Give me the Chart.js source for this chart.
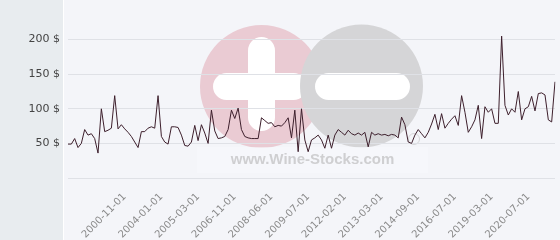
<!DOCTYPE html>
<html>
<head>
<meta charset="utf-8">
<script src="https://cdn.jsdelivr.net/npm/chart.js@4.4.0/dist/chart.umd.min.js"></script>
<style>
  html, body { margin: 0; padding: 0; }
  #wrap {
    width: 560px; height: 240px; overflow: hidden;
    background: linear-gradient(to right, #e8ecef 0, #e8ecef 63px, #ffffff 63px, #ffffff 64px, #f4f5f9 64px);
  }
</style>
</head>
<body>
<div id="wrap"><canvas id="priceChart" width="560" height="240"></canvas></div>
<script>
// Price history (USD)

const dates = [
  '1999-06-01','1999-07-01','1999-08-01','1999-09-01','1999-10-01','1999-11-01','1999-12-01',
  '2000-01-01','2000-02-01','2000-03-01','2000-04-01','2000-05-01','2000-06-01','2000-07-01',
  '2000-08-01','2000-09-01','2000-10-01','2000-11-01',
  '2001-02-01','2001-06-01','2001-10-01','2002-01-01','2002-04-01','2002-08-01','2002-11-01',
  '2003-03-01','2003-07-01','2003-10-01','2004-01-01',
  '2004-02-01','2004-03-01','2004-04-01','2004-05-01','2004-06-01','2004-07-01','2004-08-01',
  '2004-09-01','2004-10-01','2004-12-01','2005-03-01',
  '2005-05-01','2005-07-01','2005-08-01','2005-10-01','2005-12-01','2006-02-01','2006-04-01',
  '2006-06-01','2006-08-01','2006-09-01','2006-11-01',
  '2007-01-01','2007-03-01','2007-04-01','2007-06-01','2007-08-01','2007-10-01','2007-12-01',
  '2008-02-01','2008-03-01','2008-05-01','2008-06-01',
  '2008-07-01','2008-08-01','2008-09-01','2008-10-01','2008-11-01','2008-12-01','2009-01-01',
  '2009-02-01','2009-03-01','2009-05-01','2009-07-01',
  '2009-10-01','2010-01-01','2010-04-01','2010-07-01','2010-10-01','2011-01-01','2011-04-01',
  '2011-07-01','2011-10-01','2011-12-01','2012-02-01',
  '2012-03-01','2012-04-01','2012-05-01','2012-06-01','2012-07-01','2012-08-01','2012-09-01',
  '2012-10-01','2012-11-01','2013-01-01','2013-03-01',
  '2013-05-01','2013-07-01','2013-08-01','2013-10-01','2013-12-01','2014-01-01','2014-03-01',
  '2014-05-01','2014-06-01','2014-08-01','2014-09-01',
  '2014-11-01','2015-01-01','2015-03-01','2015-05-01','2015-07-01','2015-09-01','2015-11-01',
  '2016-01-01','2016-03-01','2016-05-01','2016-07-01',
  '2016-10-01','2017-01-01','2017-04-01','2017-07-01','2017-10-01','2018-01-01','2018-04-01',
  '2018-07-01','2018-10-01','2018-12-01','2019-03-01',
  '2019-04-01','2019-05-01','2019-06-01','2019-07-01','2019-08-01','2019-09-01','2019-10-01',
  '2019-11-01','2019-12-01','2020-02-01','2020-07-01',
  '2020-08-01','2020-09-01','2020-10-01','2020-11-01','2020-12-01','2021-01-01','2021-02-01',
  '2021-03-01'
];

const prices = [
  49, 49, 57, 44, 50, 70, 62, 64, 57, 36, 100, 67, 69, 72, 119, 71, 77, 71,
  66, 60, 52, 44, 67, 67, 72, 74, 72, 119, 60,
  52, 49, 74, 74, 73, 62, 47, 46, 52, 76, 54,
  77, 65, 50, 98, 68, 57, 58, 60, 70, 98, 86,
  101, 70, 60, 58, 57, 57, 57, 87, 83, 79, 80,
  74, 76, 75, 80, 87, 58, 98, 38, 100, 55, 38,
  55, 58, 62, 55, 43, 62, 43, 62, 70, 66, 62,
  69, 64, 62, 65, 62, 66, 45, 66, 62, 64, 62,
  63, 61, 63, 62, 58, 88, 77, 52, 50, 62, 70,
  64, 58, 66, 78, 92, 70, 93, 72, 79, 85, 90,
  76, 119, 95, 66, 74, 84, 105, 57, 103, 95, 100,
  79, 79, 205, 105, 91, 100, 95, 125, 84, 100, 103,
  118, 97, 122, 123, 120, 84, 81, 139
];

const tickDates = [
  '2000-11-01','2004-01-01','2005-03-01','2006-11-01','2008-06-01','2009-07-01',
  '2012-02-01','2013-03-01','2014-09-01','2016-07-01','2019-03-01','2020-07-01'
];

const yTicks = [50, 100, 150, 200];

// watermark, drawn under the grid
const watermark = {
  id: 'watermark',
  beforeDraw(chart) {
    const c = chart.ctx;
    c.save();
    c.fillStyle = '#eacbd3';
    c.beginPath(); c.arc(261.5, 86.5, 61.5, 0, Math.PI * 2); c.fill();
    c.fillStyle = '#ffffff';
    roundBar(c, 248, 37, 27, 94, 13.5);
    roundBar(c, 213, 73, 94, 27, 13.5);

    c.fillStyle = '#d5d5d7';
    c.beginPath(); c.arc(361.5, 86, 61.5, 0, Math.PI * 2); c.fill();
    c.fillStyle = '#ffffff';
    roundBar(c, 315, 73, 95, 27, 13.5);

    c.fillStyle = 'rgba(247,248,251,0.6)';
    c.fillRect(197, 147, 231, 26);

    c.fillStyle = '#cfcfd1';
    c.font = 'bold 15px "Liberation Sans", Arial, sans-serif';
    c.textAlign = 'center';
    c.textBaseline = 'middle';
    c.fillText('www.Wine-Stocks.com', 312.5, 160);

    c.strokeStyle = '#d6d6d8';
    c.lineWidth = 1;
    c.beginPath(); c.arc(414, 139, 5.5, 0, Math.PI * 2); c.stroke();
    c.restore();
  }
};

function roundBar(c, x, y, w, h, r) {
  c.beginPath();
  c.roundRect(x, y, w, h, r);
  c.fill();
}

new Chart(document.getElementById('priceChart'), {
  type: 'line',
  data: {
    labels: dates,
    datasets: [{
      label: 'Price',
      data: prices,
      borderColor: '#3d1f2c',
      borderWidth: 1,
      pointRadius: 0,
      tension: 0,
      fill: false
    }]
  },
  options: {
    responsive: false,
    animation: false,
    layout: { padding: { top: 5, right: 5, left: 0, bottom: 0 } },
    plugins: {
      legend: { display: false },
      tooltip: { enabled: false }
    },
    scales: {
      x: {
        grid: { display: false, drawTicks: false },
        border: { display: false },
        afterFit: function (scale) { scale.height = 62; },
        ticks: {
          autoSkip: false,
          minRotation: 45,
          maxRotation: 45,
          padding: 13,
          color: '#8a8a8a',
          font: { family: 'DejaVu Sans', size: 10 },
          callback: function (value, index) {
            const d = dates[index];
            return tickDates.includes(d) ? d : null;
          }
        }
      },
      y: {
        min: 0,
        max: 250,
        border: { display: false },
        afterFit: function (scale) {
          scale.width = 68;
          scale.paddingTop = 0;
          scale.paddingBottom = 0;
        },
        grid: { drawTicks: false, color: '#dfe1e6' },
        ticks: {
          stepSize: 50,
          padding: 8,
          color: '#444',
          font: { family: 'DejaVu Sans', size: 11 },
          callback: function (value) {
            if (value === 250) return null;
            return yTicks.includes(value) ? value + ' $' : '';
          }
        }
      }
    }
  },
  plugins: [watermark]
});
</script>
</body>
</html>
